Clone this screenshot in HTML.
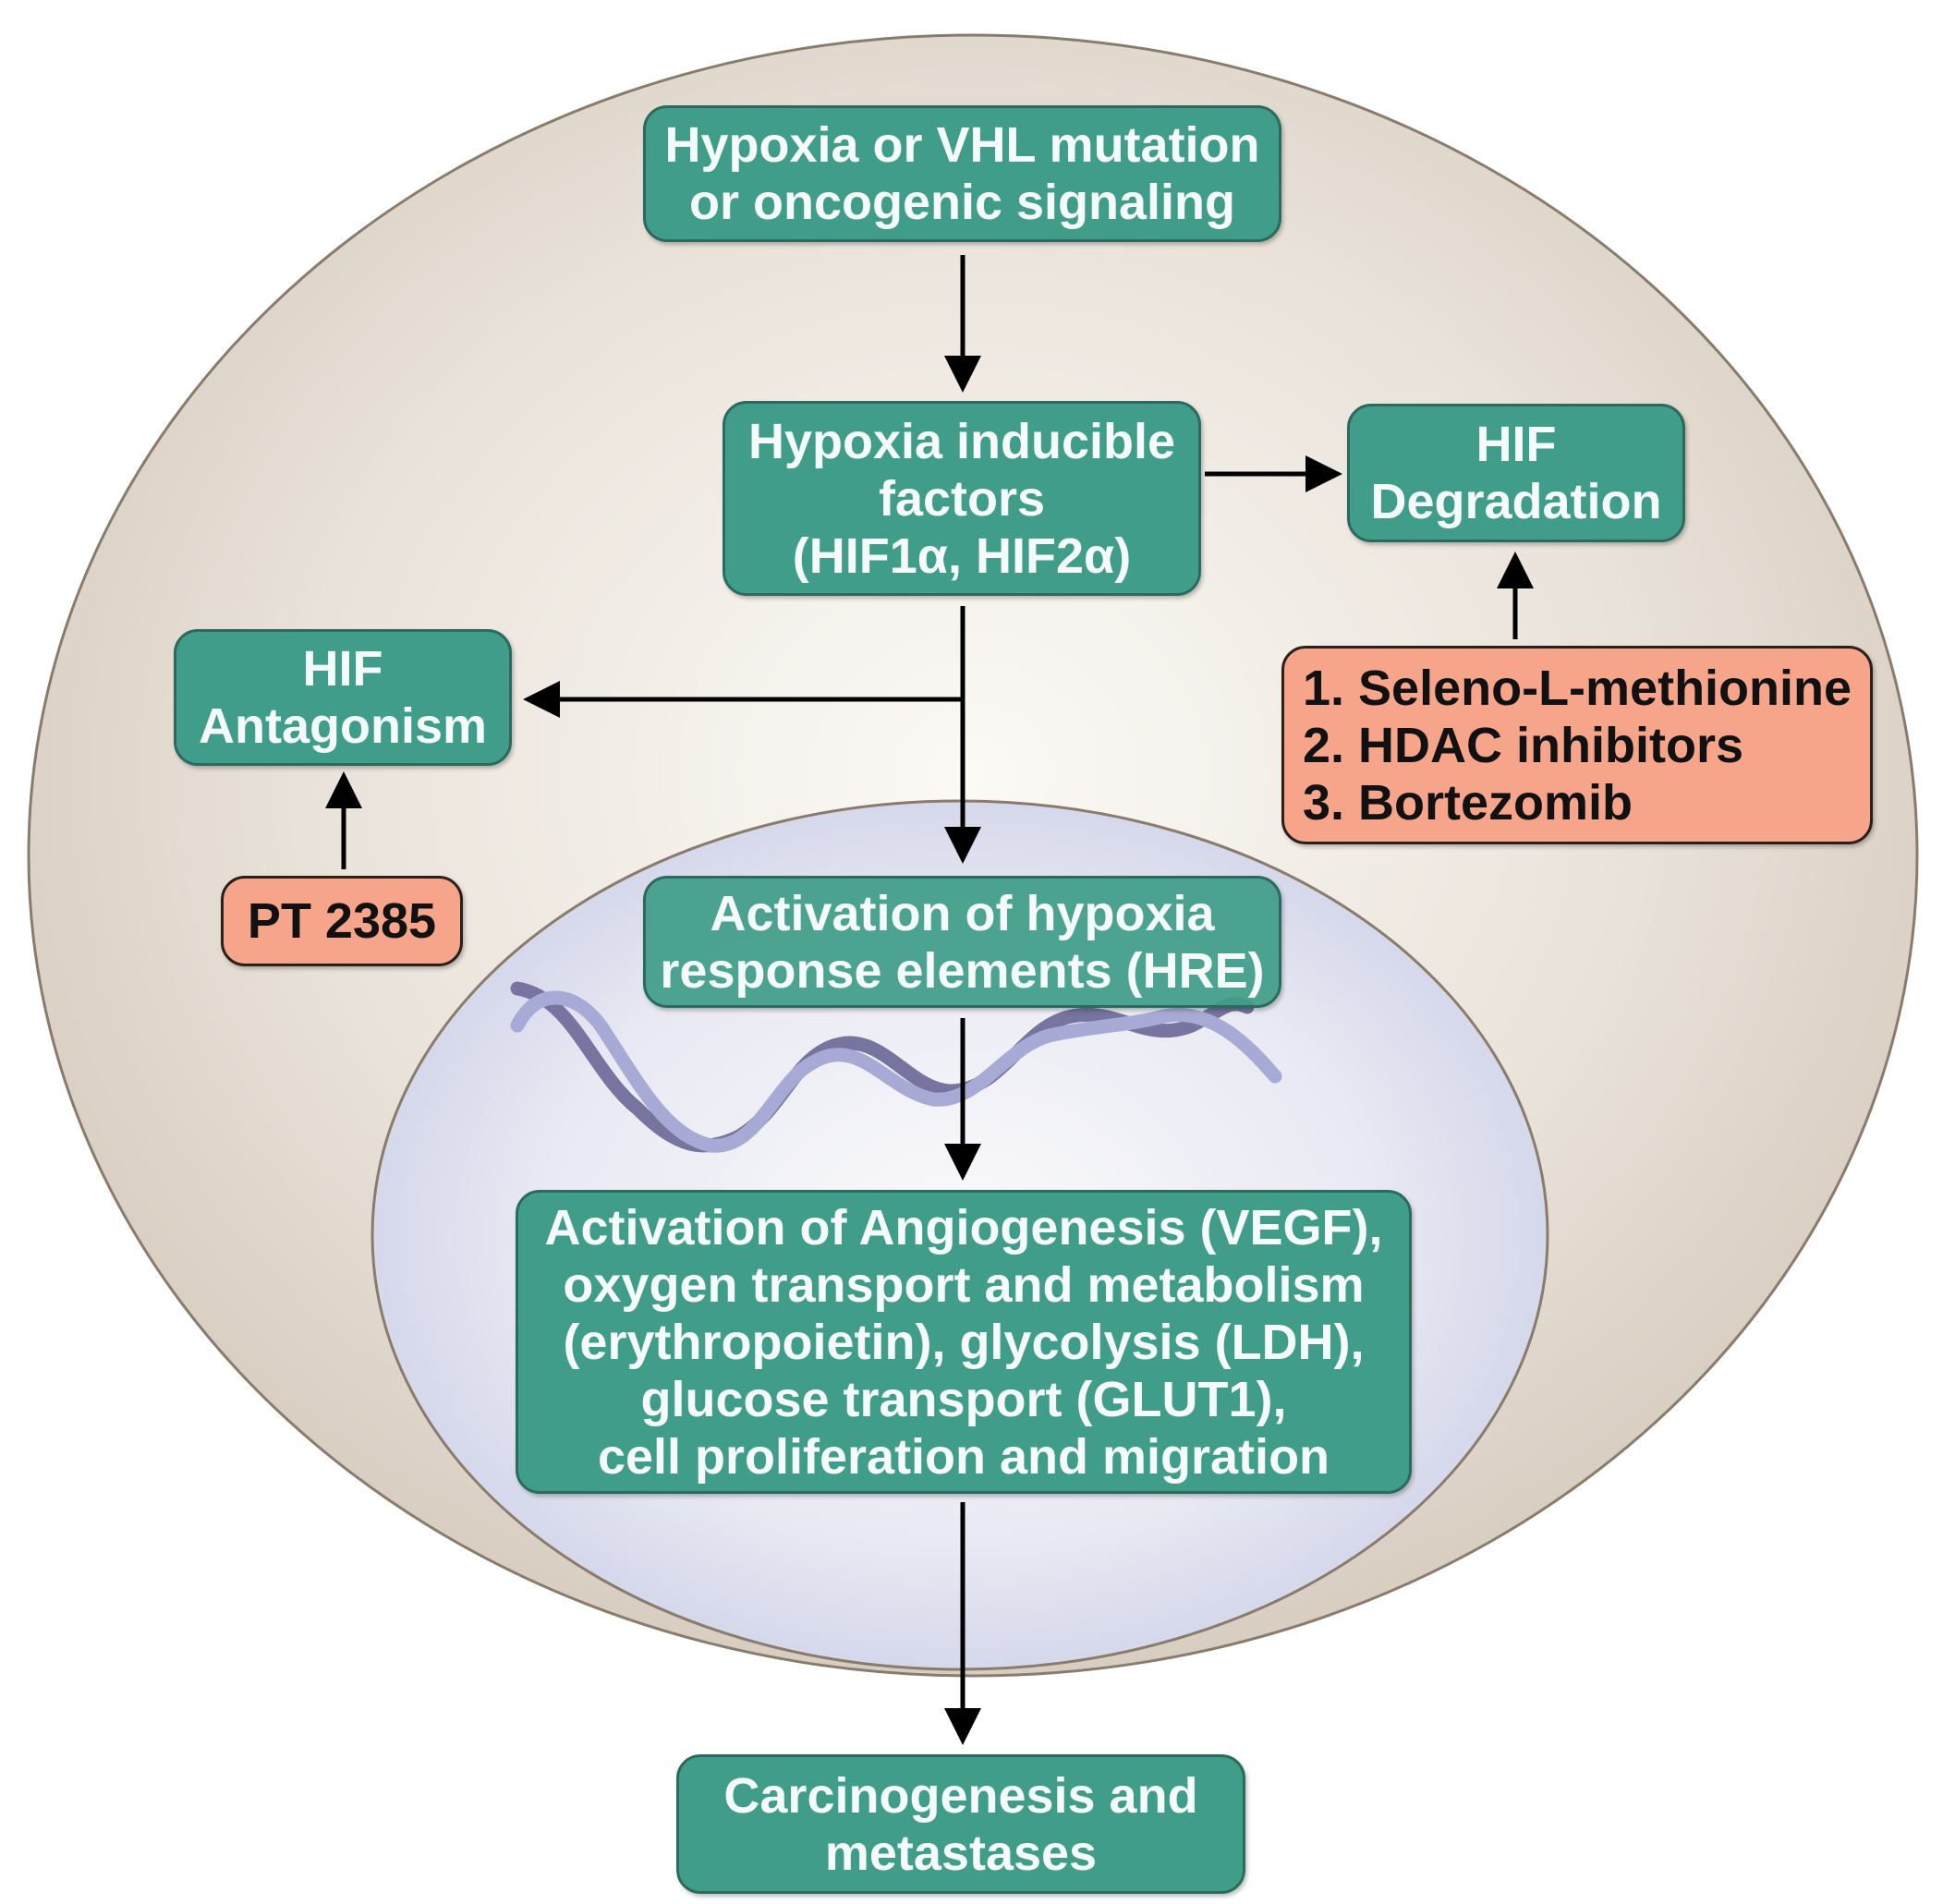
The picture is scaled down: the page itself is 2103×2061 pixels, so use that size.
<!DOCTYPE html>
<html><head><meta charset="utf-8"><style>
html,body{margin:0;padding:0;background:#fff;}
body{width:2103px;height:2061px;position:relative;overflow:hidden;font-family:"Liberation Sans",Arial,sans-serif;}
.b{position:absolute;box-sizing:border-box;background:#3f9d89;border:3px solid #2b6a5c;border-radius:26px;color:#f4fbf8;font-weight:bold;font-size:54px;line-height:62px;text-align:center;display:flex;align-items:center;justify-content:center;box-shadow:2px 3px 4px rgba(0,0,0,.25);white-space:nowrap;}
.s{background:#f6a58b;border-color:#2a1f1a;color:#111;}
</style></head><body>
<svg width="2103" height="2061" style="position:absolute;left:0;top:0">
<defs>
<radialGradient id="g1" cx="0.5" cy="0.45" r="0.55">
<stop offset="0" stop-color="#fcfaf6"/><stop offset="0.65" stop-color="#e9e2d9"/><stop offset="1" stop-color="#d8cdc1"/></radialGradient>
<radialGradient id="g2" cx="0.5" cy="0.5" r="0.55">
<stop offset="0" stop-color="#fafafc"/><stop offset="0.65" stop-color="#e8e9f3"/><stop offset="1" stop-color="#cfd2e8"/></radialGradient>
<marker id="a" markerWidth="8" markerHeight="8" refX="7" refY="4" orient="auto" markerUnits="strokeWidth"><path d="M0,0 L8,4 L0,8 z" fill="#000"/></marker>
</defs>
<ellipse cx="1053" cy="926" rx="1022" ry="888" fill="url(#g1)" stroke="#8a7c6c" stroke-width="3"/>
<ellipse cx="1039" cy="1337" rx="636" ry="470" fill="url(#g2)" stroke="#8a7c6c" stroke-width="3"/>
<g fill="none" stroke-width="15" stroke-linecap="round">
<path d="M560,1070 C620,1080 640,1160 690,1200 C730,1240 760,1250 800,1230 C850,1200 860,1140 910,1130 C960,1120 990,1190 1040,1180 C1090,1170 1110,1110 1160,1100 C1210,1090 1240,1130 1290,1110 C1320,1095 1330,1080 1350,1090" stroke="#77749f"/>
<path d="M560,1110 C580,1070 620,1070 650,1110 C690,1170 720,1230 770,1240 C820,1245 840,1170 880,1150 C930,1120 960,1180 1010,1190 C1060,1195 1090,1130 1140,1120 C1190,1110 1220,1110 1260,1100 C1310,1090 1350,1130 1380,1165" stroke="#a8aad6"/>
</g>
<g stroke="#000" stroke-width="5" fill="none">
<line x1="1042" y1="276" x2="1042" y2="420" marker-end="url(#a)"/>
<line x1="1304" y1="513" x2="1448" y2="513" marker-end="url(#a)"/>
<line x1="1042" y1="656" x2="1042" y2="930" marker-end="url(#a)"/>
<line x1="1042" y1="757" x2="571" y2="757" marker-end="url(#a)"/>
<line x1="372" y1="941" x2="372" y2="840" marker-end="url(#a)"/>
<line x1="1640" y1="692" x2="1640" y2="602" marker-end="url(#a)"/>
<line x1="1042" y1="1102" x2="1042" y2="1273" marker-end="url(#a)"/>
<line x1="1042" y1="1626" x2="1042" y2="1884" marker-end="url(#a)"/>
</g>
</svg>
<div class="b" style="left:696px;top:114px;width:691px;height:148px">Hypoxia or VHL mutation<br>or oncogenic signaling</div>
<div class="b" style="left:782px;top:434px;width:518px;height:211px">Hypoxia inducible<br>factors<br>(HIF1α, HIF2α)</div>
<div class="b" style="left:1458px;top:437px;width:366px;height:150px">HIF<br>Degradation</div>
<div class="b" style="left:188px;top:681px;width:366px;height:148px">HIF<br>Antagonism</div>
<div class="b s" style="left:1387px;top:699px;width:640px;height:215px;text-align:left;justify-content:flex-start;padding-left:20px">1. Seleno-L-methionine<br>2. HDAC inhibitors<br>3. Bortezomib</div>
<div class="b s" style="left:239px;top:948px;width:262px;height:98px">PT 2385</div>
<div class="b" style="left:696px;top:948px;width:691px;height:143px;background:rgba(63,157,137,.93)">Activation of hypoxia<br>response elements (HRE)</div>
<div class="b" style="left:558px;top:1288px;width:970px;height:329px">Activation of Angiogenesis (VEGF),<br>oxygen transport and metabolism<br>(erythropoietin), glycolysis (LDH),<br>glucose transport (GLUT1),<br>cell proliferation and migration</div>
<div class="b" style="left:732px;top:1899px;width:616px;height:151px">Carcinogenesis and<br>metastases</div>
</body></html>
